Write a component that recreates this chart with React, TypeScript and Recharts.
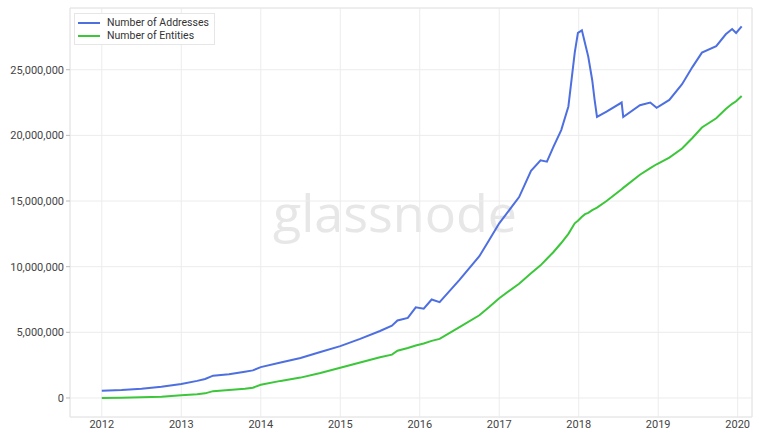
import {
  LineChart,
  Line,
  XAxis,
  YAxis,
  CartesianGrid,
  ReferenceArea,
} from "recharts";

// time as fractional years
const years = [
  2012.0, 2012.25, 2012.5, 2012.75, 2013.0, 2013.2, 2013.3, 2013.4, 2013.6, 2013.8,
  2013.9, 2014.0, 2014.25, 2014.5, 2014.75, 2015.0, 2015.25, 2015.5, 2015.65, 2015.72,
  2015.85, 2015.95, 2016.05, 2016.15, 2016.25, 2016.5, 2016.75, 2016.87, 2017.0, 2017.25,
  2017.4, 2017.52, 2017.6, 2017.68, 2017.78, 2017.87, 2017.95, 2017.99, 2018.04, 2018.08,
  2018.12, 2018.17, 2018.2, 2018.23, 2018.35, 2018.54, 2018.56, 2018.77, 2018.9, 2018.98,
  2019.14, 2019.3, 2019.43, 2019.55, 2019.73, 2019.85, 2019.93, 2019.98, 2020.05,
];

// millions
const addresses = [
  0.55, 0.6, 0.7, 0.85, 1.07, 1.3, 1.45, 1.7, 1.8, 2.0,
  2.1, 2.35, 2.7, 3.05, 3.5, 3.95, 4.5, 5.1, 5.5, 5.9,
  6.1, 6.9, 6.8, 7.5, 7.3, 9.0, 10.8, 12.0, 13.3, 15.3,
  17.3, 18.1, 18.0, 19.1, 20.4, 22.2, 26.3, 27.8, 28.0, 27.0,
  26.0, 24.2, 22.7, 21.4, 21.8, 22.5, 21.4, 22.3, 22.5, 22.1,
  22.7, 23.9, 25.2, 26.3, 26.8, 27.7, 28.1, 27.8, 28.3,
];

const entities = [
  0.0, 0.02, 0.05, 0.1, 0.2, 0.28, 0.35, 0.52, 0.6, 0.7,
  0.78, 1.0, 1.3, 1.55, 1.9, 2.3, 2.7, 3.1, 3.3, 3.6,
  3.8, 4.0, 4.15, 4.35, 4.5, 5.4, 6.3, 6.9, 7.6, 8.7,
  9.5, 10.1, 10.6, 11.1, 11.8, 12.5, 13.3, 13.5, 13.8, 14.0,
  14.1, 14.3, 14.4, 14.5, 15.0, 15.9, 16.0, 17.0, 17.5, 17.8,
  18.3, 19.0, 19.8, 20.6, 21.3, 22.0, 22.4, 22.6, 23.0,
];

const xTicks = [2012, 2013, 2014, 2015, 2016, 2017, 2018, 2019, 2020];
const yTicks = [0, 5000000, 10000000, 15000000, 20000000, 25000000];

const BLUE = "#4d6fe0";
const GREEN = "#3cc63a";
const X_MIN = 2011.6;
const X_MAX = 2020.18;
const Y_MIN = -1450000;
const Y_MAX = 29700000;

const data = years.map((t, i) => ({
  t,
  addresses: addresses[i] * 1e6,
  entities: entities[i] * 1e6,
}));

const fmt = (v: number) => v.toLocaleString("en-US");

function LegendBox() {
  const items = [
    { label: "Number of Addresses", color: BLUE },
    { label: "Number of Entities", color: GREEN },
  ];
  return (
    <div
      style={{
        position: "absolute",
        left: 74,
        top: 13,
        zIndex: 2,
        background: "#fff",
        border: "1px solid #e6e6e6",
        padding: "2px 5px 2px 3px",
        fontSize: 10.5,
        color: "#333",
        lineHeight: "13px",
      }}
    >
      {items.map((it) => (
        <div key={it.label} style={{ display: "flex", alignItems: "center" }}>
          <span style={{ width: 22, height: 2, background: it.color, marginRight: 7 }} />
          {it.label}
        </div>
      ))}
    </div>
  );
}

export default function App() {
  return (
    <div
      style={{
        position: "absolute",
        left: 0,
        top: 0,
        width: 763,
        height: 431,
        background: "#fff",
        fontFamily: "Roboto, sans-serif",
      }}
    >
      {/* watermark sits under the svg */}
      <div
        style={{
          position: "absolute",
          left: 273,
          top: 176,
          fontSize: 52,
          lineHeight: "normal",
          fontFamily: "'Open Sans', sans-serif",
          color: "#e7e7e7",
        }}
      >
        glassnode
      </div>
      <div style={{ position: "absolute", left: 0, top: 0 }}>
        <LineChart
          width={763}
          height={431}
          data={data}
          margin={{ top: 8, right: 11, left: 0, bottom: 0 }}
        >
          <CartesianGrid stroke="#ececec" />
          <ReferenceArea
            x1={X_MIN}
            x2={X_MAX}
            y1={Y_MIN}
            y2={Y_MAX}
            fill="none"
            stroke="#e6e6e6"
          />
          <XAxis
            dataKey="t"
            type="number"
            domain={[X_MIN, X_MAX]}
            ticks={xTicks}
            allowDataOverflow
            axisLine={false}
            tickLine={false}
            tickSize={1}
            tickMargin={2}
            height={14}
            tick={{ fontSize: 11, fill: "#444" }}
          />
          <YAxis
            domain={[Y_MIN, Y_MAX]}
            ticks={yTicks}
            allowDataOverflow
            width={70}
            axisLine={false}
            tickLine={{ stroke: "#bbb" }}
            tickSize={4}
            tickFormatter={fmt}
            tick={{ fontSize: 11, fill: "#444" }}
          />
          <Line
            type="linear"
            dataKey="addresses"
            stroke={BLUE}
            strokeWidth={2}
            dot={false}
            isAnimationActive={false}
          />
          <Line
            type="linear"
            dataKey="entities"
            stroke={GREEN}
            strokeWidth={2}
            dot={false}
            isAnimationActive={false}
          />
        </LineChart>
      </div>
      <LegendBox />
    </div>
  );
}
